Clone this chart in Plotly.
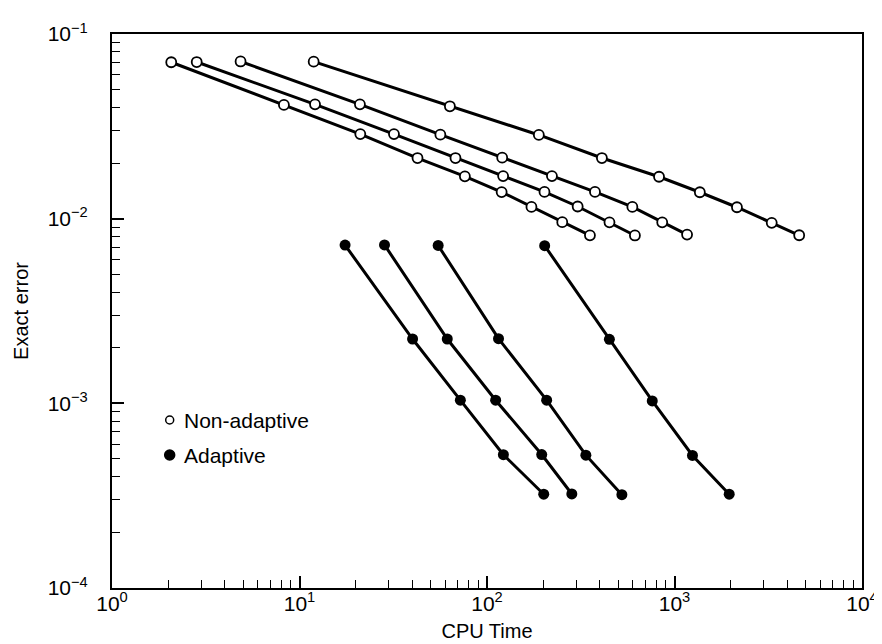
import plotly.graph_objects as go

# ---- data ----
non_adaptive_x = [
    [2.07, 8.26, 21.1, 42.6, 76.2, 119.7, 172.6, 252, 354],
    [2.83, 12.1, 31.9, 67.9, 121.9, 202.6, 304.5, 450, 615],
    [4.85, 21.0, 56.4, 120.5, 222, 376.6, 596, 860, 1167],
    [11.9, 63.4, 189, 410, 827, 1365, 2153, 3300, 4624],
]
non_adaptive_y = [
    [0.0703, 0.0413, 0.0287, 0.0213, 0.01695, 0.01393, 0.01158, 0.00957, 0.00812],
    [0.0705, 0.0416, 0.0287, 0.0213, 0.0170, 0.01396, 0.01164, 0.00955, 0.00811],
    [0.0710, 0.0416, 0.0285, 0.0214, 0.0170, 0.01396, 0.01158, 0.00955, 0.0082],
    [0.0708, 0.0406, 0.0284, 0.0213, 0.01687, 0.0139, 0.01153, 0.00949, 0.00813],
]
adaptive_x = [
    [17.5, 40.1, 72.1, 122.3, 200.7],
    [28.4, 61.4, 111.2, 195.8, 283.4],
    [54.9, 115.2, 208, 336.7, 524],
    [203, 449.5, 761, 1247, 1958],
]
adaptive_y = [
    [0.00719, 0.00223, 0.00104, 0.000527, 0.000322],
    [0.00721, 0.00223, 0.00104, 0.000528, 0.000323],
    [0.00716, 0.00224, 0.00104, 0.000524, 0.00032],
    [0.00714, 0.00222, 0.00103, 0.000522, 0.000322],
]
x_tickvals = [1, 10, 100, 1000, 10000]
x_exponents = ["0", "1", "2", "3", "4"]
y_tickvals = [1e-4, 1e-3, 1e-2, 1e-1]
y_exponents = ["−4", "−3", "−2", "−1"]
legend_labels = ["Non-adaptive", "Adaptive"]

FONT = "Liberation Sans, Arial, Helvetica, sans-serif"

def pow_label(e):
    return "10<sup>" + e + "</sup>"

fig = go.Figure()
for xs, ys in zip(non_adaptive_x, non_adaptive_y):
    fig.add_trace(go.Scatter(
        x=xs, y=ys, mode="lines+markers", showlegend=False,
        line=dict(color="black", width=3),
        marker=dict(symbol="circle", size=10, color="white",
                    line=dict(color="black", width=1.8)),
    ))
for xs, ys in zip(adaptive_x, adaptive_y):
    fig.add_trace(go.Scatter(
        x=xs, y=ys, mode="lines+markers", showlegend=False,
        line=dict(color="black", width=3),
        marker=dict(symbol="circle", size=11, color="black"),
    ))

minor_x = [m * 10 ** d for d in range(0, 4) for m in range(2, 10)]
minor_y = [m * 10.0 ** d for d in range(-4, -1) for m in range(2, 10)]

fig.update_xaxes(
    type="log", range=[0, 4],
    tickmode="array", tickvals=x_tickvals, ticktext=[pow_label(e) for e in x_exponents],
    ticks="inside", ticklen=12, tickwidth=1.6, tickcolor="black",
    minor=dict(tickmode="array", tickvals=minor_x, ticks="inside",
               ticklen=8, tickwidth=1.4, tickcolor="black", showgrid=False),
    showline=True, linecolor="black", linewidth=2, mirror=True,
    showgrid=False, zeroline=False,
    tickfont=dict(family=FONT, size=21, color="black"),
    ticklabelstandoff=-4,
    title=dict(text="CPU Time", font=dict(family=FONT, size=20, color="black"), standoff=10),
)
fig.update_yaxes(
    type="log", range=[-4, -1],
    tickmode="array", tickvals=y_tickvals, ticktext=[pow_label(e) for e in y_exponents],
    ticks="inside", ticklen=12, tickwidth=1.6, tickcolor="black",
    minor=dict(tickmode="array", tickvals=minor_y, ticks="inside",
               ticklen=8, tickwidth=1.4, tickcolor="black", showgrid=False),
    showline=True, linecolor="black", linewidth=2, mirror=True,
    showgrid=False, zeroline=False,
    tickfont=dict(family=FONT, size=21, color="black"),
    ticklabelstandoff=18,
    title=dict(text="Exact error", font=dict(family=FONT, size=20, color="black"), standoff=14),
)

L, R, T, B = 102, 26, 26, 64
W, H = 882, 644
pw, ph = W - L - R, H - T - B

def px2paper(px, py):
    return (px - L) / pw, (H - B - py) / ph

# legend (drawn manually to match the reference)
for i, (lab, py) in enumerate(zip(legend_labels, [412, 447])):
    xp, yp = px2paper(160, py)
    r = 4 if i == 0 else 5
    fig.add_shape(type="circle", xref="paper", yref="paper",
                  xsizemode="pixel", ysizemode="pixel",
                  xanchor=xp, yanchor=yp, x0=-r, x1=r, y0=-r, y1=r,
                  line=dict(color="black", width=1.5),
                  fillcolor="white" if i == 0 else "black")
    tx, ty = px2paper(172, py)
    fig.add_annotation(xref="paper", yref="paper", x=tx, y=ty, text=lab,
                       showarrow=False, xanchor="left", yanchor="middle",
                       font=dict(family=FONT, size=21, color="black"))

fig.update_layout(
    width=W, height=H,
    margin=dict(l=L, r=R, t=T, b=B),
    paper_bgcolor="white", plot_bgcolor="white",
    showlegend=False,
)

fig.write_html("out.html")
